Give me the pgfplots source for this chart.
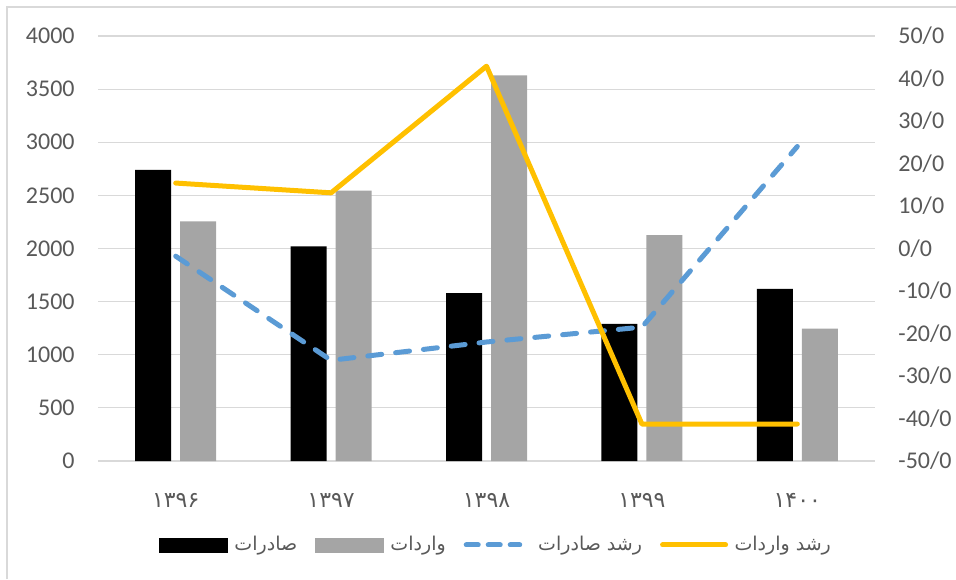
\documentclass[border=0pt]{standalone}
\usepackage{fontspec}
\setmainfont{Carlito}
\newfontfamily\arabicfont[Script=Arabic]{DejaVu Sans}
\TeXXeTstate=1
\usepackage{pgfplots}
\pgfplotsset{compat=1.18}
\definecolor{txt}{HTML}{595959}
\definecolor{gridc}{HTML}{D9D9D9}
\definecolor{barg}{HTML}{A5A5A5}
\definecolor{lblue}{HTML}{5B9BD5}
\definecolor{lyel}{HTML}{FFC000}
\begin{document}
\begin{tikzpicture}
\useasboundingbox (0,0) rectangle (478pt,289.5pt);
\draw[gridc, line width=0.75pt] (3.5pt,0) -- (3.5pt,286pt) -- (478pt,286pt);
\begin{axis}[
  at={(49pt,59pt)}, anchor=south west,
  scale only axis, width=388.5pt, height=212.5pt,
  xmin=-0.5, xmax=4.5, ymin=0, ymax=4000,
  ytick={0,500,...,4000},
  yticklabels={0,500,1000,1500,2000,2500,3000,3500,4000},
  xtick={0,1,2,3,4},
  xticklabels={۱۳۹۶,۱۳۹۷,۱۳۹۸,۱۳۹۹,۱۴۰۰},
  axis line style={draw=none},
  major tick length=0pt,
  ymajorgrids, grid style={gridc, line width=0.6pt},
  yticklabel style={font=\fontsize{12}{14}\selectfont, text=txt, anchor=east, inner sep=0pt, xshift=-11.5pt},
  xticklabel style={font=\arabicfont\fontsize{11}{13}\selectfont, text=txt, anchor=base, inner sep=0pt, yshift=-23pt},
  ybar=4.5pt, bar width=18pt,
  clip=false,
]
\addplot[fill=black, draw=none] coordinates {(0,2740) (1,2020) (2,1580) (3,1290) (4,1620)};
\addplot[fill=barg, draw=none] coordinates {(0,2255) (1,2545) (2,3630) (3,2125) (4,1245)};
\end{axis}
\begin{axis}[
  at={(49pt,59pt)}, anchor=south west,
  scale only axis, width=388.5pt, height=212.5pt,
  xmin=-0.5, xmax=4.5, ymin=-50, ymax=50,
  axis y line*=right, axis x line=none,
  axis line style={draw=none},
  major tick length=0pt,
  ytick={-50,-40,...,50},
  yticklabels={-50/0,-40/0,-30/0,-20/0,-10/0,0/0,10/0,20/0,30/0,40/0,50/0},
  yticklabel style={font=\fontsize{12}{14}\selectfont, text=txt, anchor=west, inner sep=0pt, xshift=11.5pt},
  clip=false,
  legend columns=4,
  legend style={at={(0.511,-0.1976)}, anchor=center, draw=none, fill=none,
    font=\arabicfont\fontsize{9.5}{11}\selectfont, text=txt,
    inner sep=0pt, column sep=0pt,
    nodes={inner sep=0pt},
    /tikz/every odd column/.append style={column sep=3.25pt},
    /tikz/every even column/.append style={column sep=9pt}},
]
\addlegendimage{legend image code/.code={\fill[black] (0pt,-3.5pt) rectangle (34pt,3.5pt);}}
\addlegendentry{\beginR صادرات\endR}
\addlegendimage{legend image code/.code={\fill[barg] (0pt,-3.5pt) rectangle (34pt,3.5pt);}}
\addlegendentry{\beginR واردات\endR}
\addplot[lblue, line width=2.5pt, dash pattern=on 7pt off 7pt, line cap=round, line join=round,
  legend image code/.code={\path[draw=none,fill=none] (0pt,-3.5pt) -- (34pt,3.5pt);\draw[lblue, line width=2.5pt, line cap=round, dash pattern=on 6pt off 5pt] (1.25pt,0pt) -- (28pt,0pt);}]
  coordinates {(0,-1.8) (1,-26.3) (2,-22) (3,-18.5) (4,24)};
\addlegendentry{\beginR رشد صادرات\endR}
\addplot[lyel, line width=2.5pt, line cap=round, line join=round,
  legend image code/.code={\path[draw=none,fill=none] (0pt,-3.5pt) -- (34pt,3.5pt);\draw[lyel, line width=2.5pt, line cap=round] (1.25pt,0pt) -- (32.75pt,0pt);}]
  coordinates {(0,15.4) (1,13.1) (2,42.9) (3,-41.3) (4,-41.3)};
\addlegendentry{\beginR رشد واردات\endR}
\end{axis}
\end{tikzpicture}
\end{document}
